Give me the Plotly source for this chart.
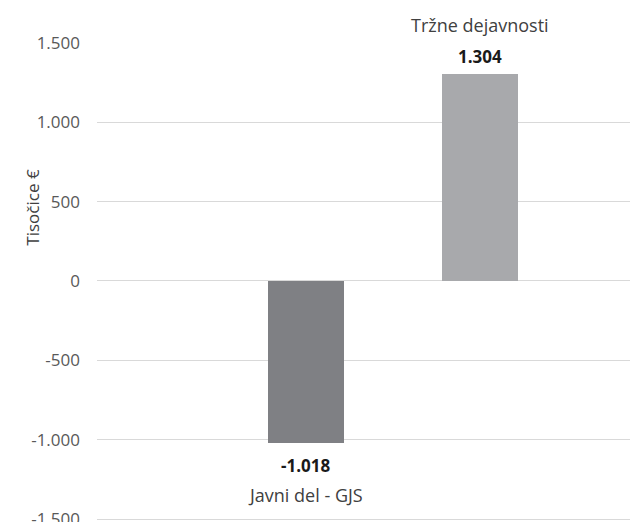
import plotly.graph_objects as go

categories = ["Javni del - GJS", "Tržne dejavnosti"]
values = [-1018, 1304]
value_labels = ["-1.018", "1.304"]
bar_colors = ["#7f8084", "#a8a9ac"]
tick_vals = [-1500, -1000, -500, 0, 500, 1000, 1500]
tick_text = ["-1.500", "-1.000", "-500", "0", "500", "1.000", "1.500"]
y_title = "Tisočice €"

FONT = "Open Sans"

fig = go.Figure()
fig.add_trace(go.Bar(
    x=categories, y=values, marker=dict(color=bar_colors, line=dict(width=0)),
    width=0.437, hoverinfo="skip", showlegend=False,
))

for cat, v, lab in zip(categories, values, value_labels):
    pos = v >= 0
    fig.add_annotation(x=cat, y=v, xref="x", yref="y", text="<b>" + lab + "</b>",
                       showarrow=False, yshift=17 if pos else -23,
                       font=dict(family=FONT, size=17, color="#1a1a1a"))
    fig.add_annotation(x=cat, y=v, xref="x", yref="y", text=cat,
                       showarrow=False, yshift=49 if pos else -52,
                       font=dict(family=FONT, size=18, color="#404040"))

fig.add_annotation(x=-0.12, y=0.655, xref="paper", yref="paper", text=y_title,
                   textangle=-90, showarrow=False, xanchor="center", yanchor="middle",
                   font=dict(family=FONT, size=17, color="#404040"))

fig.update_layout(
    width=630, height=522,
    margin=dict(l=97, r=0, t=42, b=0),
    paper_bgcolor="white", plot_bgcolor="white",
    font=dict(family=FONT, size=17, color="#595959"),
    bargap=0,
    xaxis=dict(range=[-1.201, 1.862], showticklabels=False, showgrid=False,
               zeroline=False, showline=False, ticks=""),
    yaxis=dict(range=[-1518, 1505], tickvals=tick_vals, ticktext=tick_text,
               showgrid=True, gridcolor="#d9d9d9", gridwidth=1,
               zeroline=False, showline=False, ticks="", ticklabelstandoff=16,
               ticklabeloverflow="allow", automargin=False,
               tickfont=dict(family=FONT, size=17, color="#595959")),
)

fig.write_html("out.html", config={"displayModeBar": False},
               post_script="document.body.style.margin='0';")
